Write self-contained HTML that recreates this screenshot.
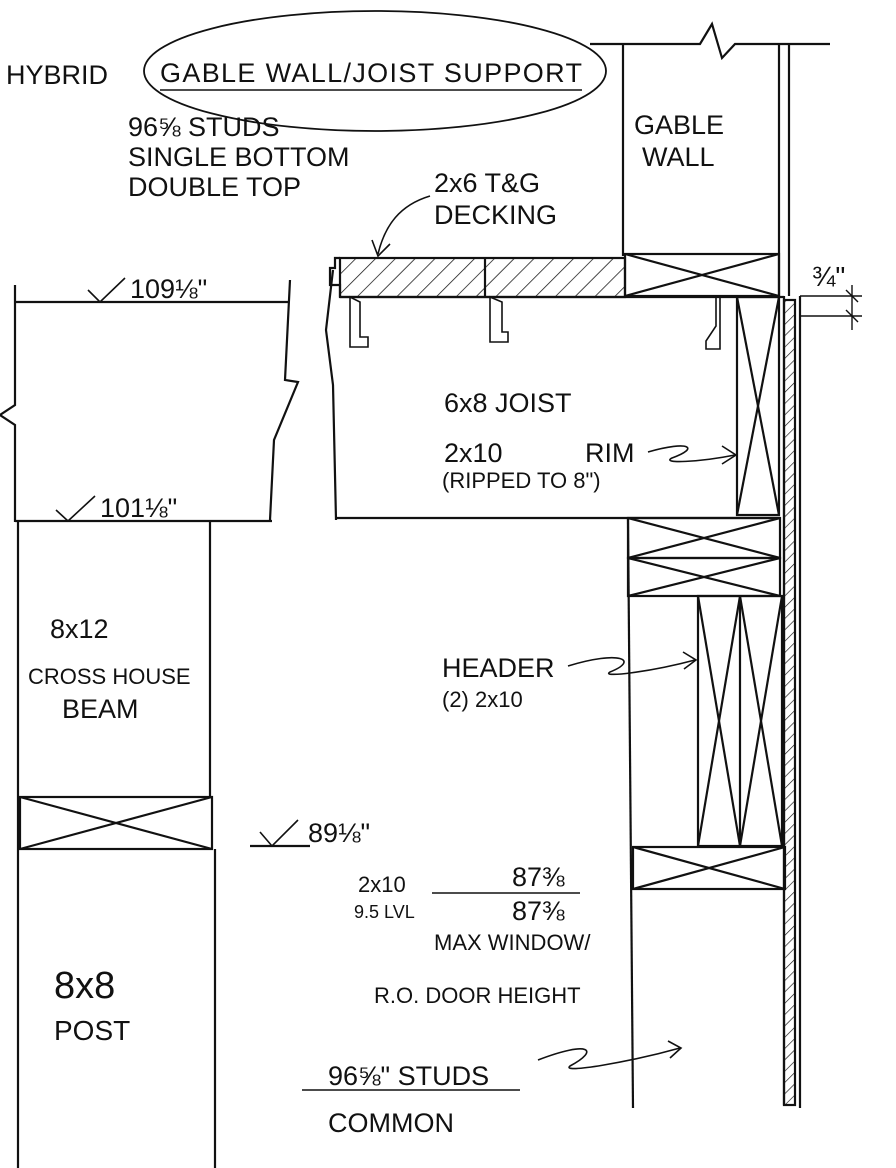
<!DOCTYPE html>
<html><head><style>
html,body{margin:0;padding:0;background:#fff;}
svg{display:block;}
text{font-family:"Liberation Sans",sans-serif;fill:#111;}
</style></head><body>
<svg width="896" height="1168" viewBox="0 0 896 1168" xmlns="http://www.w3.org/2000/svg">
<defs>
<pattern id="h" width="14" height="14" patternUnits="userSpaceOnUse" patternTransform="rotate(45)">
<line x1="0" y1="0" x2="0" y2="14" stroke="#111" stroke-width="1.5"/></pattern>
<pattern id="h2" width="8" height="8" patternUnits="userSpaceOnUse" patternTransform="rotate(45)">
<line x1="0" y1="0" x2="0" y2="8" stroke="#111" stroke-width="1.3"/></pattern>
</defs>
<g stroke="#111" stroke-width="2.2" fill="none">
<polyline points="590,44 700,44 712,24 722,58 735,44 830,44"/>
<line x1="623" y1="44" x2="623" y2="256"/>
<line x1="779" y1="44" x2="779" y2="296"/>
<line x1="789" y1="44" x2="789" y2="296"/>
<rect x="784" y="300" width="11" height="805" fill="url(#h2)"/>
<rect x="340" y="258" width="285" height="39" fill="url(#h)"/>
<polyline points="340,258 335,258 335,268 330,268 330,285 340,285 340,297"/>
<line x1="485" y1="258" x2="485" y2="297"/>
<rect x="625" y="254" width="154" height="42"/>
<line x1="625" y1="254" x2="779" y2="296"/><line x1="625" y1="296" x2="779" y2="254"/>
<line x1="340" y1="297" x2="784" y2="297"/>
<line x1="335" y1="518" x2="780" y2="518"/>
<path d="M350,297 v50 h18 v-10 h-8 v-35 z" stroke-width="1.6"/>
<path d="M490,297 v45 h18 v-10 h-6 v-30 z" stroke-width="1.6"/>
<path d="M720,297 v52 h-14 v-8 l10,-15 v-29 z" stroke-width="1.6"/>
<rect x="737" y="297" width="42" height="218"/>
<line x1="737" y1="297" x2="779" y2="515"/><line x1="779" y1="297" x2="737" y2="515"/>
<polyline points="333,270 326,330 333,385 336,520"/>
<polyline points="290,280 285,380 298,382 274,440 270,520"/>
<polyline points="15,285 15,405 0,415 15,425 15,522"/>
<line x1="15" y1="302" x2="288" y2="302"/>
<line x1="15" y1="521" x2="272" y2="521"/>
<polyline points="88,290 100,302 125,278" stroke-width="1.6"/>
<polyline points="56,510 68,521 95,496" stroke-width="1.6"/>
<line x1="18" y1="521" x2="18" y2="1168"/>
<line x1="210" y1="521" x2="210" y2="797"/>
<line x1="215" y1="849" x2="215" y2="1168"/>
<rect x="20" y="797" width="192" height="52"/>
<line x1="20" y1="797" x2="212" y2="849"/><line x1="20" y1="849" x2="212" y2="797"/>
<line x1="250" y1="846" x2="310" y2="846"/>
<polyline points="260,832 272,846 298,820" stroke-width="1.6"/>
<line x1="628" y1="518" x2="633" y2="1108"/>
<rect x="628" y="518" width="152" height="40"/>
<line x1="628" y1="518" x2="780" y2="558"/><line x1="628" y1="558" x2="780" y2="518"/>
<rect x="628" y="558" width="152" height="38"/>
<line x1="628" y1="558" x2="780" y2="596"/><line x1="628" y1="596" x2="780" y2="558"/>
<rect x="698" y="596" width="84" height="250"/>
<line x1="740" y1="596" x2="740" y2="846"/>
<line x1="698" y1="596" x2="740" y2="846"/><line x1="740" y1="596" x2="698" y2="846"/>
<line x1="740" y1="596" x2="782" y2="846"/><line x1="782" y1="596" x2="740" y2="846"/>
<rect x="633" y="847" width="152" height="42"/>
<line x1="633" y1="847" x2="785" y2="889"/><line x1="633" y1="889" x2="785" y2="847"/>
<line x1="784" y1="296" x2="784" y2="1105"/>
<line x1="800" y1="296" x2="800" y2="1108"/>
<line x1="800" y1="296" x2="862" y2="296" stroke-width="1.4"/>
<line x1="800" y1="316" x2="862" y2="316" stroke-width="1.4"/>
<line x1="852" y1="285" x2="852" y2="330" stroke-width="1.4"/>
<line x1="846" y1="290" x2="858" y2="302" stroke-width="1.4"/>
<line x1="846" y1="310" x2="858" y2="322" stroke-width="1.4"/>
<ellipse cx="375" cy="71" rx="231" ry="60" stroke-width="1.8"/>
<line x1="160" y1="90" x2="582" y2="90" stroke-width="1.6"/>
<path d="M430,196 C400,205 385,225 378,254" stroke-width="1.6"/>
<polyline points="372,240 378,256 390,244" stroke-width="1.6"/>
<path d="M648,452 C690,440 700,448 672,458 C660,464 700,462 735,455" stroke-width="1.6"/>
<polyline points="722,446 736,455 722,464" stroke-width="1.6"/>
<path d="M568,666 C620,650 640,660 610,672 C600,678 650,672 695,660" stroke-width="1.6"/>
<polyline points="683,652 696,660 684,669" stroke-width="1.6"/>
<path d="M538,1060 C590,1040 600,1050 570,1066 C560,1074 630,1062 680,1048" stroke-width="1.6"/>
<polyline points="668,1041 681,1048 670,1058" stroke-width="1.6"/>
<line x1="432" y1="893" x2="580" y2="893" stroke-width="1.6"/>
<line x1="302" y1="1090" x2="520" y2="1090" stroke-width="1.6"/>
</g>
<g font-size="27">
<text x="6" y="84">HYBRID</text>
<text x="160" y="82" textLength="422">GABLE WALL/JOIST SUPPORT</text>
<text x="128" y="136">96⅝ STUDS</text>
<text x="128" y="166">SINGLE BOTTOM</text>
<text x="128" y="196">DOUBLE TOP</text>
<text x="634" y="134">GABLE</text>
<text x="642" y="166">WALL</text>
<text x="434" y="192">2x6 T&amp;G</text>
<text x="434" y="224">DECKING</text>
<text x="130" y="298">109⅛"</text>
<text x="100" y="517">101⅛"</text>
<text x="444" y="412">6x8 JOIST</text>
<text x="444" y="462">2x10</text>
<text x="585" y="462">RIM</text>
<text x="442" y="677">HEADER</text>
<text x="50" y="638">8x12</text>
<text x="62" y="718">BEAM</text>
<text x="308" y="842">89⅛"</text>
<text x="512" y="886">87⅜</text>
<text x="512" y="920">87⅜</text>
<text x="328" y="1085">96⅝" STUDS</text>
<text x="328" y="1132">COMMON</text>
</g>
<g font-size="22">
<text x="442" y="488">(RIPPED TO 8")</text>
<text x="442" y="707">(2) 2x10</text>
<text x="28" y="684">CROSS HOUSE</text>
<text x="358" y="892">2x10</text>
<text x="434" y="950">MAX WINDOW/</text>
<text x="374" y="1003">R.O. DOOR HEIGHT</text>
</g>
<text x="812" y="286" font-size="28">¾"</text>
<text x="354" y="918" font-size="18">9.5 LVL</text>
<text x="54" y="998" font-size="38">8x8</text>
<text x="54" y="1040" font-size="28">POST</text>
</svg>
</body></html>
